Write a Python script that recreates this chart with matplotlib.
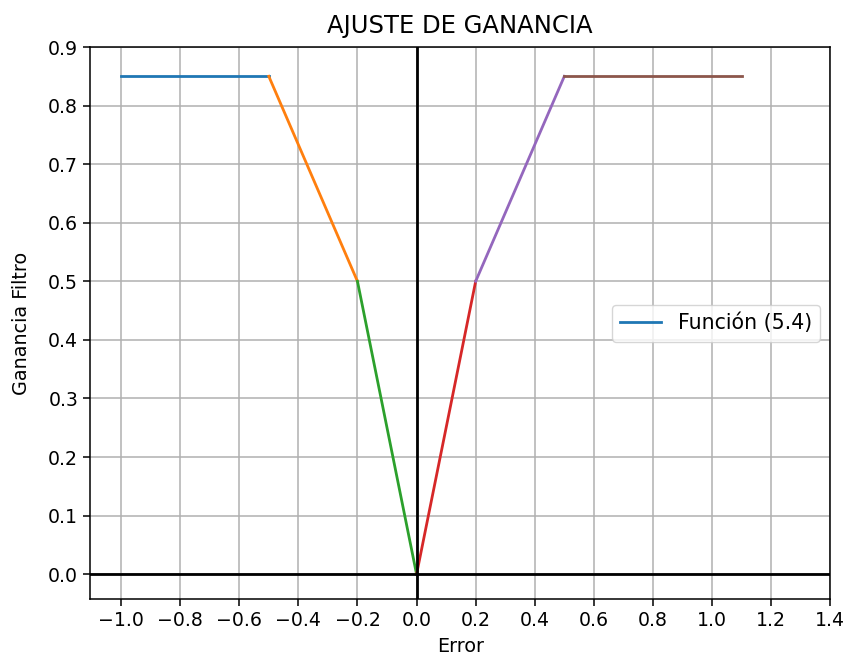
import matplotlib
matplotlib.use("Agg")
from matplotlib import pyplot as plt

# tramos de la funcion de ganancia (x, y)
tramo_x = [[-1.0, -0.5], [-0.5, -0.2], [-0.2, 0.0], [0.0, 0.2], [0.2, 0.5], [0.5, 1.1]]
tramo_y = [[0.85, 0.85], [0.85, 0.5], [0.5, 0.0], [0.0, 0.5], [0.5, 0.85], [0.85, 0.85]]
etiqueta = 'Función (5.4)'

x_ticks = [-1.0, -0.8, -0.6, -0.4, -0.2, 0.0, 0.2, 0.4, 0.6, 0.8, 1.0, 1.2, 1.4]
y_ticks = [0.0, 0.1, 0.2, 0.3, 0.4, 0.5, 0.6, 0.7, 0.8, 0.9]

fig = plt.figure(figsize=(8.49, 6.62), dpi=100)
ax = fig.add_axes([0.106, 0.095, 0.872, 0.834])

for i in range(len(tramo_x)):
    if i == 0:
        ax.plot(tramo_x[i], tramo_y[i], lw=2.0, label=etiqueta)
    else:
        ax.plot(tramo_x[i], tramo_y[i], lw=2.0)

ax.axhline(0, color='k', lw=2.0)
ax.axvline(0, color='k', lw=2.0)

ax.set_xlim(-1.105, 1.4)
ax.set_ylim(-0.0425, 0.9)
ax.set_xticks(x_ticks)
ax.set_yticks(y_ticks)
ax.grid(True, lw=1.1)
ax.set_title('AJUSTE DE GANANCIA', fontsize=17.5, pad=10)
ax.set_xlabel('Error', fontsize=13.8, labelpad=5)
ax.set_ylabel('Ganancia Filtro', fontsize=13.8, labelpad=12)
ax.tick_params(labelsize=13.6, width=1.1, length=5)
for s in ax.spines.values():
    s.set_linewidth(1.1)
ax.legend(loc='center right', fontsize=14.8)

fig.savefig('out.png', dpi=100)
